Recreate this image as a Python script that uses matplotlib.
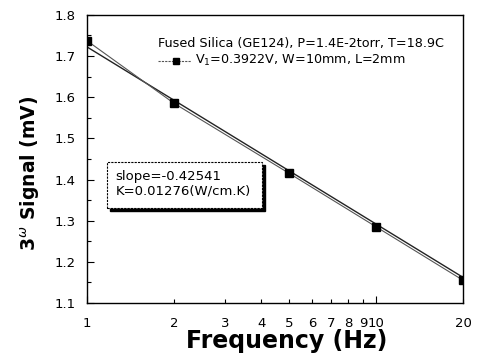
import matplotlib
matplotlib.use("Agg")
import matplotlib.pyplot as plt
from matplotlib.patches import Rectangle
from matplotlib.ticker import FixedLocator, FixedFormatter, MultipleLocator

# data
freq = [1, 2, 5, 10, 20]
signal = [1.737, 1.585, 1.415, 1.285, 1.155]
fit_freq = [1, 20]
fit_signal = [1.722, 1.162]
major_x = [1, 10]
minor_x = [2, 3, 4, 5, 6, 7, 8, 9, 20]
minor_labels = ["2", "3", "4", "5", "6", "7", "8", "9", "20"]

plt.rcParams['font.family'] = ['DejaVu Sans']

fig = plt.figure(figsize=(4.81, 3.62), dpi=100)
ax = fig.add_axes([0.181, 0.163, 0.782, 0.796])

ax.plot(fit_freq, fit_signal, color="#222222", lw=1.0)
ax.plot(freq, signal, color="#555555", lw=0.8, marker="s",
        markersize=6, markerfacecolor="black", markeredgecolor="black")

ax.set_xscale("log")
ax.set_xlim(1, 20)
ax.set_ylim(1.1, 1.8)
ax.xaxis.set_major_locator(FixedLocator(major_x))
ax.set_xticklabels(["1", "10"])
ax.xaxis.set_minor_locator(FixedLocator(minor_x))
ax.xaxis.set_minor_formatter(FixedFormatter(minor_labels))
ax.yaxis.set_major_locator(MultipleLocator(0.1))
ax.yaxis.set_minor_locator(MultipleLocator(0.05))
ax.tick_params(axis="both", which="both", direction="in", labelsize=9.5, width=0.8)
ax.tick_params(axis="y", which="major", length=5, pad=8)
ax.tick_params(axis="y", which="minor", length=3)
ax.tick_params(axis="x", which="major", length=5, pad=10)
ax.tick_params(axis="x", which="minor", length=3, pad=10)
for s in ax.spines.values():
    s.set_linewidth(1.0)

ax.set_xlabel("Frequency (Hz)", fontsize=17, fontweight="bold")
ax.xaxis.set_label_coords(0.53, -0.09)
ax.set_ylabel(r"3$^{\omega}$ Signal (mV)", fontsize=13.5, fontweight="bold")
ax.yaxis.set_label_coords(-0.12, 0.45)

# legend-like text
ax.text(0.189, 0.899, "Fused Silica (GE124), P=1.4E-2torr, T=18.9C",
        transform=ax.transAxes, fontsize=9.2, va="center")
ax.plot([0.189, 0.276], [0.840, 0.840], transform=ax.transAxes, color="#555555",
        lw=0.8, ls=(0, (2, 1)))
ax.plot([0.237], [0.840], transform=ax.transAxes, marker="s", color="black",
        markersize=5)
ax.text(0.287, 0.840, r"V$_1$=0.3922V, W=10mm, L=2mm",
        transform=ax.transAxes, fontsize=9.2, va="center")

# slope box with shadow
ax.add_patch(Rectangle((0.061, 0.320), 0.412, 0.160, transform=ax.transAxes,
                       fc="black", ec="black", zorder=4))
ax.add_patch(Rectangle((0.053, 0.330), 0.412, 0.160, transform=ax.transAxes,
                       fc="white", ec="black", lw=0.8, ls=(0, (2, 1)), zorder=5))
ax.text(0.075, 0.413, "slope=-0.42541\nK=0.01276(W/cm.K)",
        transform=ax.transAxes, fontsize=9.5, va="center", linespacing=1.15,
        zorder=6)

fig.savefig("out.png", dpi=100)
